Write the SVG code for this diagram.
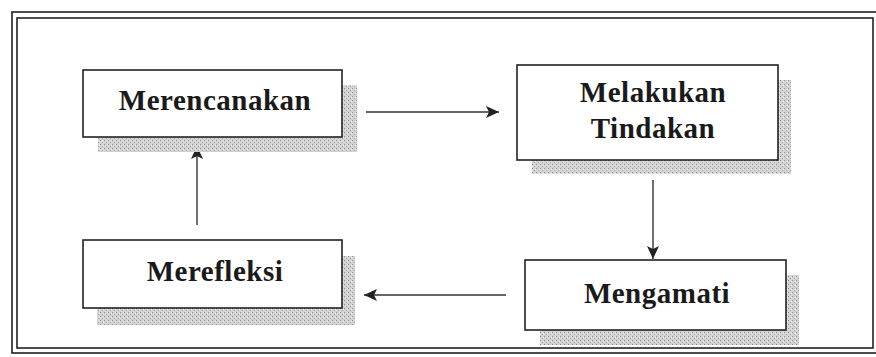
<svg xmlns="http://www.w3.org/2000/svg" width="876" height="357" viewBox="0 0 876 357">
<style>
.frame{fill:none;stroke:#222;stroke-width:1.6}
.box{fill:#fff;stroke:#222;stroke-width:1.6}
.shadow{fill:url(#stip)}
.lbl{font-family:"Liberation Serif","Times New Roman",serif;font-weight:bold;font-size:29px;fill:#1a1a1a;text-anchor:middle;letter-spacing:0.5px}
.conn{stroke:#333;stroke-width:1.4;fill:none}
</style>
<defs>
<pattern id="stip" width="4" height="4" patternUnits="userSpaceOnUse">
<rect width="4" height="4" fill="#d4d4d4"/>
<rect x="0" y="0" width="1" height="1" fill="#8e8e8e"/>
<rect x="2" y="2" width="1" height="1" fill="#a4a4a4"/>
<rect x="3" y="1" width="1" height="1" fill="#eeeeee"/>
</pattern>
<marker id="ah" markerWidth="14" markerHeight="12" refX="13" refY="6" orient="auto" markerUnits="userSpaceOnUse">
<path d="M0,0 L13,6 L0,12 L3,6 Z" fill="#222"/>
</marker>
</defs>
<rect class="frame" x="12" y="12" width="866" height="341"/>
<rect class="frame" x="17" y="18" width="856" height="330"/>
<g id="connectors">
<line class="conn" x1="366" y1="112" x2="499" y2="112" marker-end="url(#ah)"/>
<line class="conn" x1="653" y1="180" x2="653" y2="259" marker-end="url(#ah)"/>
<line class="conn" x1="506" y1="295" x2="364" y2="295" marker-end="url(#ah)"/>
<line class="conn" x1="197" y1="225" x2="197" y2="146" marker-end="url(#ah)"/>
</g>
<g id="merencanakan">
<rect class="shadow" x="98" y="85" width="259" height="67"/>
<rect class="box" x="83" y="70" width="259" height="67"/>
<text class="lbl" x="215" y="110">Merencanakan</text>
</g>
<g id="melakukan-tindakan">
<rect class="shadow" x="532" y="80" width="259" height="94"/>
<rect class="box" x="517" y="65" width="261" height="95"/>
<text class="lbl" x="653" y="102">Melakukan</text>
<text class="lbl" x="653" y="138">Tindakan</text>
</g>
<g id="merefleksi">
<rect class="shadow" x="97" y="256" width="258" height="69"/>
<rect class="box" x="83" y="240" width="259" height="68"/>
<text class="lbl" x="215" y="281">Merefleksi</text>
</g>
<g id="mengamati">
<rect class="shadow" x="540" y="275" width="259" height="70"/>
<rect class="box" x="525" y="260" width="261" height="70"/>
<text class="lbl" x="657" y="303">Mengamati</text>
</g>
</svg>
